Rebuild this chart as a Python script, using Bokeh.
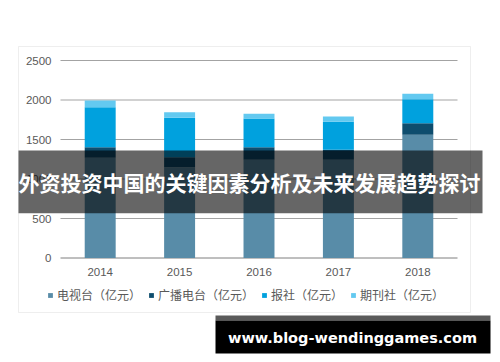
from bokeh.plotting import figure
from bokeh.models import (BoxAnnotation, Label, Legend, LegendItem, Range1d)
from bokeh.core.properties import value
from bokeh.embed import file_html
from bokeh.resources import INLINE

years = ["2014", "2015", "2016", "2017", "2018"]
tv = [1268, 1149, 1243, 1243, 1560]      # 电视台（亿元）
radio = [135, 127, 160, 127, 146]        # 广播电台（亿元）
paper = [506, 499, 363, 354, 304]        # 报社（亿元）
magazine = [85, 71, 59, 67, 68]          # 期刊社（亿元）
series_names = ["电视台（亿元）", "广播电台（亿元）", "报社（亿元）", "期刊社（亿元）"]
y_ticks = [0, 500, 1000, 1500, 2000, 2500]
y_tick_labels = ["0", "500", "1000", "1500", "2000", "2500"]
banner_text = "外资投资中国的关键因素分析及未来发展趋势探讨"
watermark_text = "www.blog-wendinggames.com"

colors = ["#588ca8", "#0e4d6e", "#00a1de", "#63c9f0"]

W, H = 500, 362
# plot area in canvas pixels
PX0, PX1 = 60, 457      # left / right of the category band
PY0, PY1 = 257.5, 60    # y of value 0 / value YMAX
YMAX = 2500
NCAT = len(years)


def dx(px):
    return (px - PX0) / (PX1 - PX0) * NCAT


def dy(py):
    return (PY0 - py) / (PY0 - PY1) * YMAX


p = figure(width=W, height=H, x_range=Range1d(dx(0), dx(W)), y_range=Range1d(dy(H), dy(0)),
           output_backend="svg", toolbar_location=None,
           x_axis_location=None, y_axis_location=None, min_border=0)
p.outline_line_color = None
p.background_fill_color = "white"
p.border_fill_color = "white"
p.grid.visible = False

xpos = [i + 0.5 for i in range(NCAT)]

# chart border
p.add_layout(BoxAnnotation(left=dx(18), right=dx(470), top=dy(46), bottom=dy(312),
                           fill_alpha=0, line_color="#c8c8c8", line_width=1, level="underlay"))

# gridlines
p.segment(x0=[0] * len(y_ticks[1:]), x1=[NCAT] * len(y_ticks[1:]), y0=y_ticks[1:], y1=y_ticks[1:],
          line_color="#a3a3a3", line_width=1)
p.segment(x0=[0], x1=[NCAT], y0=[y_ticks[0]], y1=[y_ticks[0]], line_color="#7f7f7f", line_width=1)

# bars
data = dict(x=xpos, tv=tv, radio=radio, paper=paper, magazine=magazine)
keys = ["tv", "radio", "paper", "magazine"]
rends = p.vbar_stack(keys, x="x", width=0.39, color=colors, source=data, line_color=None)

# tick labels
p.text(x=[dx(51)] * len(y_ticks), y=y_ticks, text=y_tick_labels, text_align="right",
       text_baseline="middle", text_font=value("Liberation Sans"), text_font_size=value("11.5px"),
       text_color="#595959")
p.text(x=xpos, y=[dy(271)] * NCAT, text=years, text_align="center", text_baseline="middle",
       text_font=value("Liberation Sans"), text_font_size=value("11.5px"), text_color="#595959")

# legend
items = [LegendItem(label=n, renderers=[r]) for n, r in zip(series_names, rends)]
legend = Legend(items=items, orientation="horizontal", location=(47, H - 303),
                glyph_width=6, glyph_height=6, label_height=12, label_standoff=4,
                spacing=7, padding=0, margin=0, border_line_color=None,
                background_fill_alpha=0, label_text_font="Noto Sans CJK SC",
                label_text_font_size="12px", label_text_color="#595959")
p.add_layout(legend, "center")

# banner overlay
p.add_layout(BoxAnnotation(left=dx(18), right=dx(482), top=dy(150), bottom=dy(212.7),
                           fill_color="black", fill_alpha=0.6, line_color=None))
p.add_layout(Label(x=dx(249), y=dy(181.7), text=banner_text, text_align="center",
                   text_baseline="middle", text_color="white", text_font_style="bold",
                   text_font_size="21px", text_font="Noto Sans CJK SC"))

# watermark box
p.add_layout(BoxAnnotation(left=dx(215), right=dx(490), top=dy(315), bottom=dy(320),
                           fill_color="#5a5a5a", fill_alpha=1, line_color=None))
p.add_layout(BoxAnnotation(left=dx(215), right=dx(490), top=dy(320), bottom=dy(353),
                           fill_color="black", fill_alpha=1, line_color=None))
p.add_layout(Label(x=dx(352), y=dy(337), text=watermark_text, text_align="center",
                   text_baseline="middle", text_color="white", text_font_style="bold",
                   text_font_size="14.5px", text_font="DejaVu Sans"))

open("out.html", "w").write(file_html(p, INLINE))
